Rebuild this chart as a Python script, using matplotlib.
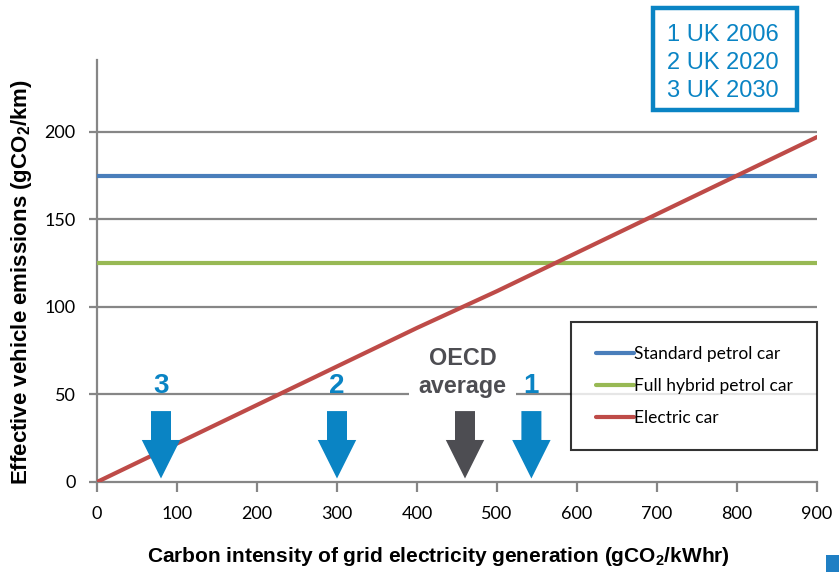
import matplotlib
matplotlib.use("Agg")
import matplotlib.pyplot as plt
from matplotlib.patches import FancyArrow, Rectangle

# Grid carbon intensity (gCO2/kWhr) and the emissions of each vehicle type (gCO2/km)
intensity = [0, 100, 200, 300, 400, 500, 600, 700, 800, 900]
petrol = [175, 175, 175, 175, 175, 175, 175, 175, 175, 175]
hybrid = [125, 125, 125, 125, 125, 125, 125, 125, 125, 125]
electric = [0, 22, 44, 66, 88, 109, 131, 153, 175, 197]

series_names = ["Standard petrol car", "Full hybrid petrol car", "Electric car"]
series_colors = ["#4A7EBB", "#98B954", "#BE4B48"]

# Grid intensity markers
marker_labels = ["3", "2", "OECD\naverage", "1"]
marker_x = [80, 300, 460, 543]
marker_colors = ["#0A84C4", "#0A84C4", "#4D4D52", "#0A84C4"]

scenario_lines = ["1 UK 2006", "2 UK 2020", "3 UK 2030"]

x_ticks = [0, 100, 200, 300, 400, 500, 600, 700, 800, 900]
y_ticks = [0, 50, 100, 150, 200]

plt.rcParams["mathtext.fontset"] = "custom"
plt.rcParams["mathtext.rm"] = "Liberation Sans"
plt.rcParams["mathtext.bf"] = "Liberation Sans:bold"

fig = plt.figure(figsize=(8.39, 5.72), dpi=100)
W, H = 839, 572
ax = fig.add_axes([97 / W, (H - 482) / H, 720 / W, 422 / H])

grid_c = "#868686"
for y in y_ticks[1:]:
    ax.axhline(y, color=grid_c, lw=1.6, zorder=1)

for vals, name, col in zip([petrol, hybrid, electric], series_names, series_colors):
    ax.plot(intensity, vals, color=col, lw=3.0, label=name, zorder=3,
            solid_capstyle="round")

ax.set_xlim(0, 900)
ax.set_ylim(0, 241)
ax.set_xticks(x_ticks)
ax.set_yticks(y_ticks)
for s in ["top", "right"]:
    ax.spines[s].set_visible(False)
for s in ["left", "bottom"]:
    ax.spines[s].set_color(grid_c)
    ax.spines[s].set_linewidth(1.6)
    ax.spines[s].set_zorder(2)
ax.tick_params(axis="both", colors=grid_c, width=1.6, labelcolor="black",
               labelsize=13)
ax.tick_params(axis="x", length=7, pad=10.5)
ax.tick_params(axis="y", length=6, pad=9.5)
for lab in ax.get_xticklabels() + ax.get_yticklabels():
    lab.set_family("Lato")

# Arrows pointing at grid intensity values
for lab, x, col in zip(marker_labels, marker_x, marker_colors):
    arr = FancyArrow(x, 40.5, 0, -38.5, width=25, head_width=48, head_length=22,
                     length_includes_head=True, color=col, lw=0, zorder=4)
    ax.add_patch(arr)
    if "\n" in lab:
        ax.text(x - 3, 51, lab, ha="center", va="baseline", fontsize=16.8,
                fontweight="bold", color=col, family="Liberation Sans",
                linespacing=1.25, zorder=2.5,
                bbox=dict(facecolor="white", edgecolor="none", pad=7))
    else:
        ax.text(x, 51, lab, ha="center", va="baseline", fontsize=20,
                fontweight="bold", color=col, family="Liberation Sans", zorder=5)

leg = ax.legend(loc="lower right", bbox_to_anchor=(1.0, (482 - 450) / 422),
                frameon=True, fancybox=False, prop={"family": "Lato", "size": 12.5},
                handlelength=2.2, handletextpad=0.0, borderpad=1.4,
                labelspacing=0.9, borderaxespad=0)
leg.get_frame().set_edgecolor("black")
leg.get_frame().set_linewidth(1.5)

fig.text(22 / W, 1 - 282 / H, r"Effective vehicle emissions (gCO$_\mathbf{2}$/km)",
         rotation=90, ha="center", va="center", fontsize=16, fontweight="bold",
         family="Liberation Sans")
fig.text(438 / W, 1 - 557 / H,
         r"Carbon intensity of grid electricity generation (gCO$_\mathbf{2}$/kWhr)",
         ha="center", va="center", fontsize=15, fontweight="bold",
         family="Liberation Sans")

# Scenario key in the top-right corner
fig.patches.append(Rectangle((653 / W, 1 - 110 / H), 144 / W, 102 / H,
                             transform=fig.transFigure, facecolor="white",
                             edgecolor="#0A84C4", linewidth=3.2))
for i, line in enumerate(scenario_lines):
    fig.text(667 / W, 1 - (41 + 28 * i) / H, line, ha="left", va="baseline",
             fontsize=17, color="#0A84C4", family="Liberation Sans")

fig.patches.append(Rectangle((826 / W, 0), 13 / W, 17 / H, transform=fig.transFigure,
                             facecolor="#1F7FC4", edgecolor="none"))

fig.savefig("out.png", dpi=100)
